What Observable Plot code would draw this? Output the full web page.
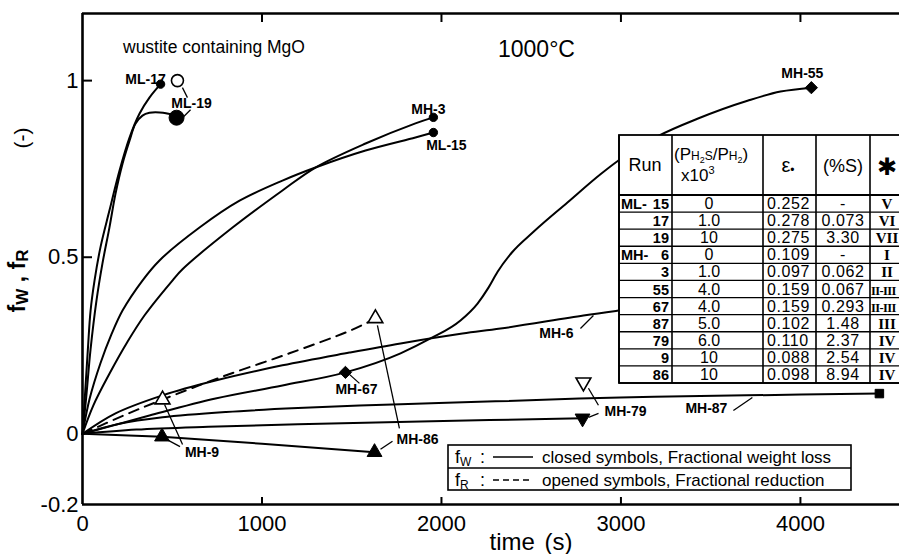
<!DOCTYPE html>
<html>
<head>
<meta charset="utf-8">
<script src="https://cdn.jsdelivr.net/npm/d3@7"></script>
<script src="https://cdn.jsdelivr.net/npm/@observablehq/plot@0.6"></script>
<style>
  html, body { margin: 0; padding: 0; background: #fff; }
  svg { display: block; }
</style>
</head>
<body>
<div id="chart"></div>
<script>
// ---------------- DATA ----------------
// Curves: [time (s), fraction (-)]
const curveML17 = [[0,0],[15,0.12],[30,0.24],[45,0.349],[67,0.434],[100,0.528],[150,0.632],[206,0.745],[262,0.839],[318,0.907],[373,0.952],[435,0.99]];
const curveML19 = [[0,0],[20,0.1],[45,0.24],[78,0.378],[111,0.482],[150,0.584],[184,0.68],[223,0.765],[262,0.83],[295,0.878],[334,0.901],[373,0.909],[430,0.91],[490,0.905],[524,0.895]];
const curveML15 = [[0,0],[40,0.1],[100,0.2],[160,0.28],[223,0.349],[334,0.434],[429,0.491],[652,0.584],[875,0.66],[1114,0.717],[1298,0.754],[1577,0.802],[1855,0.839],[1955,0.853]];
const curveMH3  = [[0,0],[60,0.08],[150,0.17],[250,0.26],[345,0.335],[501,0.434],[557,0.466],[836,0.584],[1114,0.689],[1298,0.754],[1577,0.822],[1855,0.879],[1955,0.896]];
const curveMH55 = [[0,0],[373,0.052],[741,0.1],[1114,0.137],[1465,0.174],[1772,0.228],[1939,0.27],[2106,0.321],[2201,0.369],[2262,0.414],[2312,0.458],[2390,0.512],[2513,0.572],[2702,0.655],[2886,0.735],[2986,0.774],[3203,0.842],[3426,0.892],[3705,0.943],[3889,0.969],[4061,0.98]];
const curveMH6  = [[0,0],[184,0.058],[446,0.109],[741,0.151],[1114,0.194],[1487,0.23],[1772,0.256],[2117,0.284],[2329,0.298],[2791,0.335],[2986,0.349],[3300,0.37]];
const curveMH87 = [[0,0],[200,0.028],[446,0.047],[800,0.062],[1200,0.073],[1772,0.084],[2300,0.092],[2997,0.103],[3700,0.109],[4440,0.114]];
const curveMH79 = [[0,0],[300,0.012],[700,0.02],[1200,0.027],[1883,0.035],[2786,0.044]];
const curveMH86 = [[0,0],[443,-0.008],[1000,-0.028],[1627,-0.052]];
const curveFR_MH9_MH86 = [[0,0],[229,0.052],[446,0.097],[780,0.162],[1153,0.228],[1504,0.295],[1632,0.327]];

// Measured end points
const markerRun  = ["ML-17","ML-19","ML-19","ML-15","MH-3","MH-55","MH-67","MH-86","MH-86","MH-9","MH-9","MH-79","MH-79","MH-87"];
const markerQty  = ["fW","fW","fR","fW","fW","fW","fW","fW","fR","fW","fR","fW","fR","fW"];
const markerTime = [435,524,529,1955,1955,4061,1465,1627,1632,443,446,2786,2791,4440];
const markerF    = [0.99,0.895,1.0,0.853,0.896,0.98,0.174,-0.052,0.327,-0.008,0.097,0.044,0.146,0.114];

// Axis ticks
const xTicks = [0,1000,2000,3000,4000];
const yTicks = [-0.2,0,0.5,1];

// Table
const tableRun   = ["15","17","19","6","3","55","67","87","79","9","86"];
const tableGroup = ["ML-","","","MH-","","","","","","",""];
const tableRatio = ["0","1.0","10","0","1.0","4.0","4.0","5.0","6.0","10","10"];
const tableEps   = ["0.252","0.278","0.275","0.109","0.097","0.159","0.159","0.102","0.110","0.088","0.098"];
const tableS     = ["-","0.073","3.30","-","0.062","0.067","0.293","1.48","2.37","2.54","8.94"];
const tableType  = ["V","VI","VII","I","II","II-III","II-III","III","IV","IV","IV"];

// ---------------- LAYOUT ----------------
const W = 899, H = 554, mL = 82, mR = 0, mT = 13, mB = 50;
const xDomain = [0, 4552], yDomain = [-0.2, 1.19];
const innerW = W - mL - mR, innerH = H - mT - mB;
const xs = d3.scaleLinear(xDomain, [mL, W - mR]);
const ys = d3.scaleLinear(yDomain, [H - mB, mT]);
const off = (t, f, dx, dy) => [xs.invert(xs(t) + dx), ys.invert(ys(f) + dy)];
const FONT = "'Liberation Sans', Arial, sans-serif";

const toRows = (run, arr) => arr.map(([t, f]) => ({run, t, f}));
const solidRows = [
  ...toRows("ML-17", curveML17), ...toRows("ML-19", curveML19), ...toRows("ML-15", curveML15),
  ...toRows("MH-3", curveMH3), ...toRows("MH-6", curveMH6),
  ...toRows("MH-87", curveMH87), ...toRows("MH-79", curveMH79)
];
const sCurveRows = toRows("MH-55", curveMH55);
const straightRows = toRows("MH-86", curveMH86);
const dashedRows = toRows("fR", curveFR_MH9_MH86);

const markers = markerRun.map((run, i) => ({run, qty: markerQty[i], t: markerTime[i], f: markerF[i]}));
const mk = (run, qty) => markers.find(d => d.run === run && d.qty === qty);

const triangleDown = {
  draw(ctx, size) {
    const s3 = Math.sqrt(3);
    const y = -Math.sqrt(size / (s3 * 3));
    ctx.moveTo(0, -y * 2);
    ctx.lineTo(-s3 * y, y);
    ctx.lineTo(s3 * y, y);
    ctx.closePath();
  }
};
function symbolOf(d) {
  if (d.run.startsWith("ML")) return "circle";
  if (d.run === "MH-3") return "circle";
  if (d.run === "MH-55" || d.run === "MH-67") return "diamond2";
  if (d.run === "MH-86" || d.run === "MH-9") return "triangle";
  if (d.run === "MH-79") return "down";
  return "square";
}
function radiusOf(d) {
  const s = symbolOf(d);
  if (d.run === "ML-19" && d.qty === "fW") return 7.5;
  if (d.run === "ML-19") return 6;
  if (s === "circle") return 4.2;
  if (s === "diamond2") return 5.5;
  if (s === "square") return 4.8;
  return 5.5;
}
const dotMarks = [];
const groups = d3.groups(markers, d => symbolOf(d) + "|" + d.qty + "|" + radiusOf(d));
for (const [key, arr] of groups) {
  const [s, q, r] = key.split("|");
  dotMarks.push(Plot.dot(arr, {
    x: "t", y: "f",
    symbol: s === "down" ? triangleDown : s,
    r: +r,
    fill: q === "fW" ? "black" : "white",
    stroke: "black",
    strokeWidth: q === "fW" ? 1 : 1.6
  }));
}

// Labels (pixel offsets relative to a reference point)
const labelSpec = [
  {text: "ML-17", ref: mk("ML-17","fW"), dx: -15, dy: -5},
  {text: "ML-19", ref: mk("ML-19","fW"), dx: 15, dy: -14},
  {text: "MH-3",  ref: mk("MH-3","fW"),  dx: -5, dy: -8},
  {text: "ML-15", ref: mk("ML-15","fW"), dx: 13, dy: 13},
  {text: "MH-55", ref: mk("MH-55","fW"), dx: -9, dy: -14},
  {text: "MH-67", ref: mk("MH-67","fW"), dx: 11, dy: 17},
  {text: "MH-86", ref: mk("MH-86","fW"), dx: 43, dy: -13},
  {text: "MH-9",  ref: mk("MH-9","fW"),  dx: 40, dy: 16},
  {text: "MH-79", ref: mk("MH-79","fW"), dx: 43, dy: -7},
  {text: "MH-87", ref: mk("MH-87","fW"), dx: -173, dy: 15},
  {text: "MH-6",  ref: {t: 2791, f: 0.335}, dx: -27, dy: 18}
];
const labelRows = labelSpec.map(s => {
  const [x, y] = off(s.ref.t, s.ref.f, s.dx, s.dy);
  return {x, y, text: s.text};
});
const leaderSpec = [
  {ref: mk("ML-19","fR"), a: [5,7], b: [10,17]},
  {ref: mk("ML-19","fW"), a: [7,-1], b: [14,-8]},
  {ref: mk("MH-67","fW"), a: [4,2], b: [14,11]},
  {ref: mk("MH-86","fR"), a: [2,7], b: [24,110]},
  {ref: mk("MH-86","fW"), a: [6,-3], b: [18,-11]},
  {ref: mk("MH-9","fR"),  a: [2,5], b: [20,45]},
  {ref: mk("MH-9","fW"),  a: [5,3], b: [18,10]},
  {ref: mk("MH-79","fR"), a: [5,6], b: [15,23]},
  {ref: mk("MH-79","fW"), a: [6,-1], b: [16,-5]},
  {ref: mk("MH-87","fW"), a: [-146,17], b: [-127,4]},
  {ref: {t: 2791, f: 0.335}, a: [-3,13], b: [10,0]}
];
const leaderRows = leaderSpec.map(s => {
  const [x1, y1] = off(s.ref.t, s.ref.f, s.a[0], s.a[1]);
  const [x2, y2] = off(s.ref.t, s.ref.f, s.b[0], s.b[1]);
  return {x1, y1, x2, y2};
});

// ---------------- PLOT ----------------
const chart = Plot.plot({
  width: W, height: H,
  marginLeft: mL, marginRight: mR, marginTop: mT, marginBottom: mB,
  style: {fontFamily: FONT, fontSize: "22px", color: "#000", background: "#fff"},
  x: {domain: xDomain, ticks: xTicks, tickSize: 0, tickPadding: 11, tickFormat: d => String(d), label: null},
  y: {domain: yDomain, ticks: yTicks, tickSize: 0, tickPadding: 4, tickFormat: d => String(d), label: null},
  marks: [
    Plot.line(solidRows, {x: "t", y: "f", z: "run", curve: "catmull-rom", stroke: "black", strokeWidth: 2}),
    Plot.line(sCurveRows, {x: "t", y: "f", curve: "monotone-x", stroke: "black", strokeWidth: 2}),
    Plot.line(straightRows, {x: "t", y: "f", curve: "linear", stroke: "black", strokeWidth: 2}),
    Plot.line(dashedRows, {x: "t", y: "f", curve: "catmull-rom", stroke: "black", strokeWidth: 2, strokeDasharray: "10,7"}),
    Plot.link(leaderRows, {x1: "x1", y1: "y1", x2: "x2", y2: "y2", stroke: "black", strokeWidth: 1.3}),
    ...dotMarks,
    Plot.text(labelRows, {x: "x", y: "y", text: "text", fontSize: 14, fontWeight: "bold", fill: "black"}),
    // frame
    Plot.ruleX([0], {stroke: "black", strokeWidth: 2.6}),
    Plot.ruleY([yDomain[0], yDomain[1]], {stroke: "black", strokeWidth: 2.6}),
    // inward ticks
    Plot.tickX(xTicks.filter(t => t > 0), {stroke: "black", strokeWidth: 2, insetTop: innerH - 7}),
    Plot.tickX(xTicks.filter(t => t > 0), {stroke: "black", strokeWidth: 2, insetBottom: innerH - 9}),
    Plot.tickY(yTicks.filter(v => v > 0), {stroke: "black", strokeWidth: 2, insetRight: innerW - 10})
  ]
});
document.getElementById("chart").appendChild(chart);

// ---------------- ANNOTATIONS ----------------
const svg = d3.select(chart.tagName.toLowerCase() === "svg" ? chart : chart.querySelector("svg"));
const ann = svg.append("g").attr("font-family", FONT).attr("fill", "black").attr("text-anchor", "start");

function txt(x, y, s, size, opts = {}) {
  const t = ann.append("text").attr("x", x).attr("y", y).attr("font-size", size).text(s);
  for (const k in opts) t.attr(k, opts[k]);
  return t;
}
// titles
txt(123, 53, "wustite containing MgO", 17.5);
txt(498, 57, "1000°C", 23);
txt(531, 550, "time (s)", 24, {"text-anchor": "middle", "word-spacing": "3px"});
// y title (rotated)
const yt = ann.append("text").attr("transform", "translate(25,281) rotate(-90)")
  .attr("text-anchor", "middle").attr("font-weight", "bold").attr("font-size", 23);
yt.append("tspan").text("f");
yt.append("tspan").attr("font-size", 17).attr("dy", 3).text("W");
yt.append("tspan").attr("dy", -3).text(" , f");
yt.append("tspan").attr("font-size", 17).attr("dy", 3).text("R");
ann.append("text").attr("transform", "translate(29,138) rotate(-90)")
  .attr("text-anchor", "middle").attr("font-size", 21).text("(-)");

// table
const colX = [619, 672, 763, 816, 870, 906];
const tTop = 135, tHead = 195, tBot = 383;
const rowH = (tBot - tHead) / tableRun.length;
const tg = svg.append("g").attr("font-family", FONT).attr("fill", "black").attr("text-anchor", "start");
tg.append("rect").attr("x", colX[0]).attr("y", tTop).attr("width", colX[5] - colX[0]).attr("height", tBot - tTop)
  .attr("fill", "white").attr("stroke", "black").attr("stroke-width", 1.8);
for (const cx of colX) tg.append("line").attr("x1", cx).attr("x2", cx).attr("y1", tTop).attr("y2", tBot).attr("stroke", "black").attr("stroke-width", 1.6);
for (let i = 0; i <= tableRun.length; i++) {
  const yy = tHead + i * rowH;
  tg.append("line").attr("x1", colX[0]).attr("x2", colX[5]).attr("y1", yy).attr("y2", yy).attr("stroke", "black").attr("stroke-width", i === 0 ? 1.8 : 1.3);
}
// header
tg.append("text").attr("x", 645).attr("y", 171).attr("text-anchor", "middle").attr("font-size", 18).text("Run");
const h2 = tg.append("text").attr("x", 674).attr("y", 160).attr("font-size", 17);
h2.append("tspan").text("(P");
h2.append("tspan").attr("font-size", 12).text("H");
h2.append("tspan").attr("font-size", 9).attr("dy", 3).text("2");
h2.append("tspan").attr("font-size", 12).attr("dy", -3).text("S");
h2.append("tspan").text("/P");
h2.append("tspan").attr("font-size", 12).text("H");
h2.append("tspan").attr("font-size", 9).attr("dy", 3).text("2");
h2.append("tspan").attr("dy", -3).text(")");
const h2b = tg.append("text").attr("x", 681).attr("y", 181).attr("font-size", 17);
h2b.append("tspan").text("x10");
h2b.append("tspan").attr("font-size", 11).attr("dy", -7).text("3");
const h3 = tg.append("text").attr("x", 788).attr("y", 172).attr("text-anchor", "middle").attr("font-size", 20);
h3.append("tspan").text("ε");
h3.append("tspan").attr("font-size", 12).attr("dy", 2).text("•");
tg.append("text").attr("x", 843).attr("y", 172).attr("text-anchor", "middle").attr("font-size", 18).text("(%S)");
tg.append("text").attr("x", 887).attr("y", 175).attr("text-anchor", "middle").attr("font-size", 24)
  .attr("font-family", "'DejaVu Sans', sans-serif").attr("font-weight", "bold").text("✱");
// rows
tableRun.forEach((run, i) => {
  const by = tHead + (i + 0.5) * rowH + 5.5;
  if (tableGroup[i]) tg.append("text").attr("x", 621).attr("y", by).attr("font-size", 14.5).attr("font-weight", "bold").text(tableGroup[i]);
  tg.append("text").attr("x", 669).attr("y", by).attr("text-anchor", "end").attr("font-size", 14.5).attr("font-weight", "bold").text(run);
  tg.append("text").attr("x", 709).attr("y", by).attr("text-anchor", "middle").attr("font-size", 16).text(tableRatio[i]);
  tg.append("text").attr("x", 767).attr("y", by).attr("font-size", 16).attr("letter-spacing", "0.6px").text(tableEps[i]);
  tg.append("text").attr("x", 843).attr("y", by).attr("text-anchor", "middle").attr("font-size", 16).attr("letter-spacing", "0.6px").text(tableS[i]);
  const typ = tableType[i];
  const long = typ.length > 3;
  tg.append("text").attr("x", long ? 871 : 887).attr("y", by).attr("text-anchor", long ? "start" : "middle")
    .attr("font-size", long ? 12.5 : 15).attr("letter-spacing", long ? "-0.6px" : null)
    .attr("font-weight", "bold").attr("font-family", "'Liberation Serif', serif").text(typ);
});

// legend box
const lg = svg.append("g").attr("font-family", FONT).attr("fill", "black").attr("text-anchor", "start");
lg.append("rect").attr("x", 448).attr("y", 445).attr("width", 403).attr("height", 45)
  .attr("fill", "white").attr("stroke", "black").attr("stroke-width", 1.6);
lg.append("line").attr("x1", 448).attr("x2", 851).attr("y1", 468).attr("y2", 468).attr("stroke", "black").attr("stroke-width", 1.4);
[["W", 463, null, "closed symbols, Fractional weight loss"], ["R", 486, "6,4", "opened symbols, Fractional reduction"]].forEach(([sub, by, dash, label]) => {
  const t = lg.append("text").attr("x", 455).attr("y", by).attr("font-size", 18);
  t.append("tspan").text("f");
  t.append("tspan").attr("font-size", 12).attr("dy", 3).text(sub);
  lg.append("text").attr("x", 480).attr("y", by).attr("font-size", 18).text(":");
  const ln = lg.append("line").attr("x1", 493).attr("x2", 533).attr("y1", by - 6).attr("y2", by - 6).attr("stroke", "black").attr("stroke-width", 1.6);
  if (dash) ln.attr("stroke-dasharray", dash);
  lg.append("text").attr("x", 542).attr("y", by).attr("font-size", 17).text(label);
});
</script>
</body>
</html>
